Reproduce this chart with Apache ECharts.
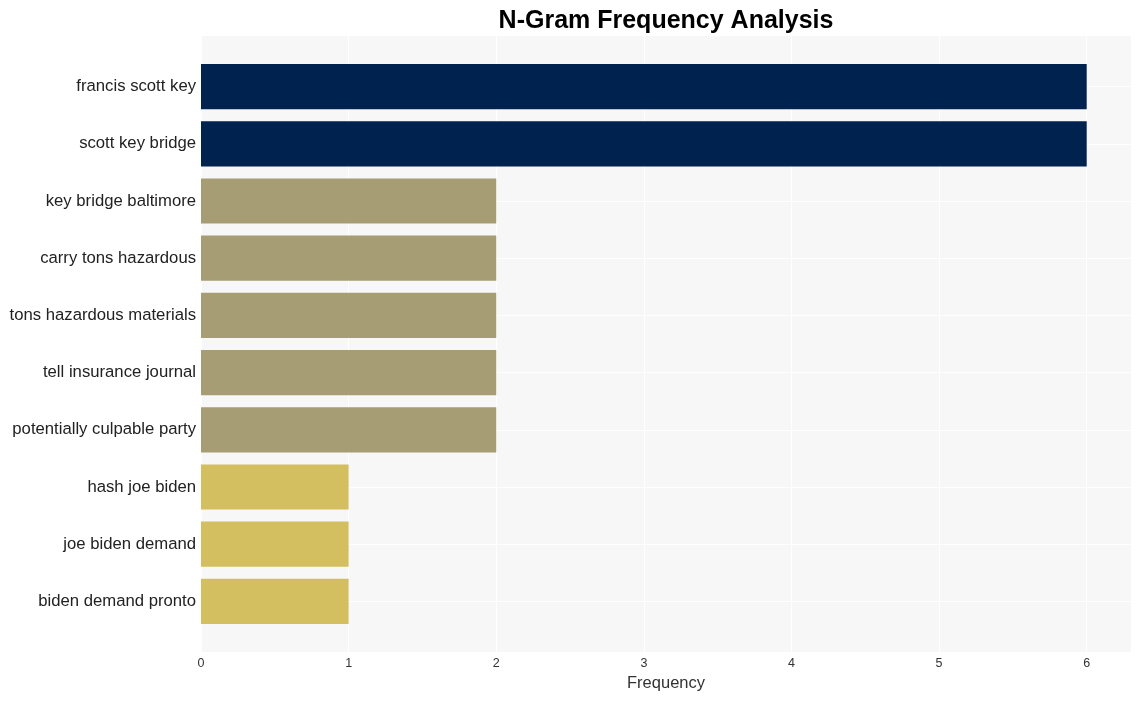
<!DOCTYPE html>
<html>
<head>
<meta charset="utf-8">
<script src="https://cdn.jsdelivr.net/npm/echarts@6/dist/echarts.min.js"></script>
<style>html,body{margin:0;padding:0;background:#fff;}#c{width:1140px;height:701px;}</style>
</head>
<body>
<div id="c"></div>
<script>
const categories = ["francis scott key","scott key bridge","key bridge baltimore","carry tons hazardous","tons hazardous materials","tell insurance journal","potentially culpable party","hash joe biden","joe biden demand","biden demand pronto"];
const values = [6,6,2,2,2,2,2,1,1,1];
const xTicks = [0,1,2,3,4,5,6];

const colorFor = v => v >= 6 ? '#00224e' : (v >= 2 ? '#a69d74' : '#d3bf5f');
const font = 'Liberation Sans, Arial, sans-serif';

const chart = echarts.init(document.getElementById('c'), null, {renderer:'canvas'});
chart.setOption({
  animation: false,
  backgroundColor: '#ffffff',
  title: {
    text: 'N-Gram Frequency Analysis',
    left: 661, top: 4, textAlign: 'center',
    textStyle: {fontFamily: font, fontSize: 25, fontWeight: 'bold', color: '#000'}
  },
  grid: [
    {left: 201, right: 9, top: 36, bottom: 49, show: true, backgroundColor: '#f7f7f7', borderWidth: 0, containLabel: false},
    {left: 201, right: 9, top: 58, bottom: 71, containLabel: false}
  ],
  xAxis: [
    {
      type: 'value', gridIndex: 0, min: 0, max: 6.3, interval: 1,
      axisLine: {show: false}, axisTick: {show: false},
      axisLabel: {show: true, showMaxLabel: false, fontFamily: font, fontSize: 12.5, color: '#333', margin: 5,
        formatter: v => xTicks.includes(v) ? String(v) : ''},
      splitLine: {show: true, lineStyle: {color: '#ffffff', width: 1}},
      name: 'Frequency', nameLocation: 'middle', nameGap: 23,
      nameTextStyle: {fontFamily: font, fontSize: 16.5, color: '#333'}
    },
    {
      type: 'value', gridIndex: 1, min: 0, max: 6.3, show: false
    }
  ],
  yAxis: [
    {type: 'value', gridIndex: 0, show: false, splitLine: {show: false}},
    {
      type: 'category', gridIndex: 1, data: categories, inverse: true,
      axisLine: {show: false}, axisTick: {show: false},
      axisLabel: {fontFamily: font, fontSize: 16.7, color: '#222', margin: 5, padding: [4, 0, 0, 0]},
      splitLine: {show: true, alignWithLabel: true, lineStyle: {color: '#ffffff', width: 1}}
    }
  ],
  series: [{
    type: 'bar', xAxisIndex: 1, yAxisIndex: 1,
    barWidth: '79%',
    data: values.map(v => ({value: v, itemStyle: {color: colorFor(v)}}))
  }]
});
</script>
</body>
</html>
